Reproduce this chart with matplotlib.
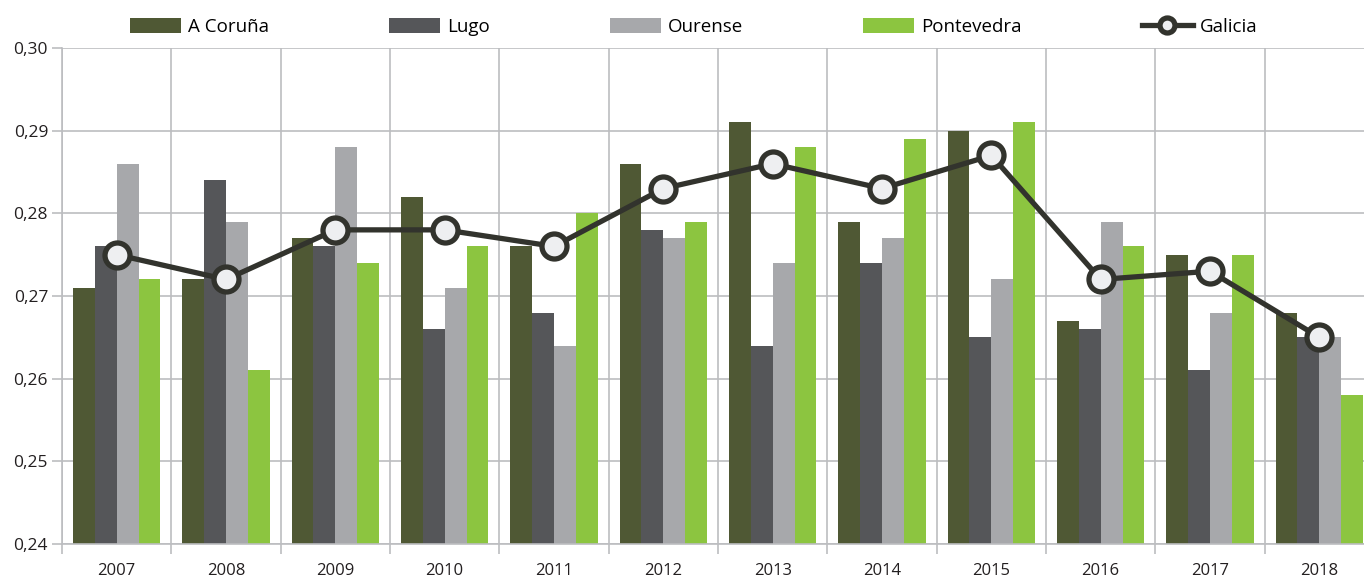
import numpy as np
import matplotlib
matplotlib.use("Agg")
import matplotlib.pyplot as plt
from matplotlib.ticker import FuncFormatter, MultipleLocator

plt.rcParams['font.family'] = ['Open Sans', 'DejaVu Sans']

years = ["2007", "2008", "2009", "2010", "2011", "2012",
         "2013", "2014", "2015", "2016", "2017", "2018"]
coruna = [0.271, 0.272, 0.277, 0.282, 0.276, 0.286, 0.291, 0.279, 0.290, 0.267, 0.275, 0.268]
lugo = [0.276, 0.284, 0.276, 0.266, 0.268, 0.278, 0.264, 0.274, 0.265, 0.266, 0.261, 0.265]
ourense = [0.286, 0.279, 0.288, 0.271, 0.264, 0.277, 0.274, 0.277, 0.272, 0.279, 0.268, 0.265]
pontevedra = [0.272, 0.261, 0.274, 0.276, 0.280, 0.279, 0.288, 0.289, 0.291, 0.276, 0.275, 0.258]
galicia = [0.275, 0.272, 0.278, 0.278, 0.276, 0.283, 0.286, 0.283, 0.287, 0.272, 0.273, 0.265]

names = ["A Coruña", "Lugo", "Ourense", "Pontevedra"]
colors = ["#4f5834", "#555659", "#a7a8ab", "#8cc540"]
grid_col = "#bcbdc0"

W, H = 1364, 578
fig = plt.figure(figsize=(W / 100, H / 100), dpi=100)
ax = fig.add_axes([62 / W, 34 / H, (1374 - 62) / W, (544 - 48) / H])

x = np.arange(len(years))
bw = 0.2
for i, (vals, name, c) in enumerate(zip([coruna, lugo, ourense, pontevedra], names, colors)):
    ax.bar(x + (i - 1.5) * bw, np.array(vals) - 0.24, bw, bottom=0.24,
           color=c, label=name, zorder=2)

ax.plot(x, galicia, color="#32332d", lw=3.8, marker="o", ms=18,
        mfc="#eeeff1", mec="#32332d", mew=3.8, label="Galicia", zorder=3)

ax.set_xlim(-0.5, len(years) - 0.5)
ax.set_ylim(0.24, 0.30)
ax.yaxis.set_major_locator(MultipleLocator(0.01))
ax.yaxis.set_major_formatter(FuncFormatter(lambda v, p: f"{v:.2f}".replace(".", ",")))
ax.set_xticks(x)
ax.set_xticklabels(years)
ax.set_xticks(np.arange(len(years) + 1) - 0.5, minor=True)

ax.tick_params(axis="x", which="major", length=0, pad=14, labelsize=12, colors="#231f20")
ax.tick_params(axis="x", which="minor", length=7, width=1.2, color=grid_col)
ax.tick_params(axis="y", length=7, width=1.2, color=grid_col, labelsize=12.5,
               labelcolor="#231f20", pad=3)

ax.grid(axis="y", which="major", color=grid_col, lw=1.2, zorder=0)
ax.grid(axis="x", which="minor", color=grid_col, lw=1.2, zorder=0)
ax.set_axisbelow(True)
for s in ["top", "right"]:
    ax.spines[s].set_visible(False)
for s in ["left", "bottom"]:
    ax.spines[s].set_color(grid_col)
    ax.spines[s].set_linewidth(1.2)

handles, labels = ax.get_legend_handles_labels()
order = [1, 2, 3, 4, 0]
handles = [handles[i] for i in order]
labels = [labels[i] for i in order]
leg = fig.legend(handles, labels, loc="center left", bbox_to_anchor=(130 / W, 1 - 27 / H),
                 ncol=5, frameon=False, fontsize=13.5, handlelength=2.7, handleheight=0.8,
                 columnspacing=6.4, handletextpad=0.4, borderaxespad=0, borderpad=0,
                 markerscale=0.6)

fig.savefig("out.png", dpi=100)
